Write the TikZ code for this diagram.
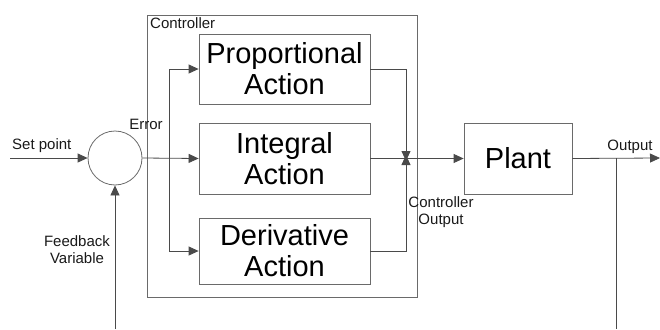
\documentclass[tikz,border=0pt]{standalone}
\usepackage{fontspec}
\setmainfont{Liberation Sans}
\usetikzlibrary{arrows.meta}
\definecolor{linec}{HTML}{4A4A4A}
\definecolor{boxc}{HTML}{6A6A6A}
\begin{document}
\begin{tikzpicture}[x=1pt,y=-1pt,
  wire/.style={draw=linec,line width=0.8pt},
  arr/.style={wire,-{Triangle[length=10pt,width=9pt]}},
  blockbox/.style={draw=boxc,line width=0.8pt,inner sep=0pt,align=center,
    font=\fontsize{29}{31}\selectfont,text=black},
  lbl/.style={inner sep=0pt,align=center,font=\fontsize{15}{17}\selectfont,text=black!90}]
\useasboundingbox (0,0) rectangle (660,329);

% controller frame and its title
\node[draw=boxc,line width=0.8pt,minimum width=270pt,minimum height=282pt,inner sep=0pt] (ctrl) at (282,156) {};
\node[lbl,anchor=north west] (ctrltitle) at (150,17) {Controller};

% summing junction
\node[draw=boxc,line width=0.8pt,circle,minimum size=54pt,inner sep=0pt] (sum) at (115,158) {};

% the three actions
\node[blockbox,minimum width=171pt,minimum height=70pt] (P) at (284.5,69) {Proportional\\Action};
\node[blockbox,minimum width=171pt,minimum height=71pt] (I) at (284.5,158.5) {Integral\\Action};
\node[blockbox,minimum width=171pt,minimum height=66pt] (D) at (284.5,251) {Derivative\\Action};

% plant
\node[blockbox,minimum width=108pt,minimum height=71pt] (plant) at (518,158.5) {Plant};

% branch and merge points
\coordinate (split) at (169,158);
\coordinate (join) at (406,158);
\coordinate (setin) at (10,158);
\coordinate (outend) at (660,158);
\coordinate (tap) at (616,158);
\coordinate (fbbottom) at (115,329);
\coordinate (tapbottom) at (616,329);

% set point and feedback into the junction
\draw[arr] (setin) -- (sum.west);
\draw[arr] (fbbottom) -- (sum.south);

% error fan-out
\draw[arr] (sum.east) -- (I.west);
\draw[arr] (split) |- (P.west);
\draw[arr] (split) |- (D.west);

% merge into controller output
\draw[arr] (P.east) -| ([yshift=-3pt]join);
\draw[arr] (D.east) -| ([yshift=3pt]join);
\draw[arr] (I.east) -- (plant.west);

% plant output and feedback tap
\draw[arr] (plant.east) -- (outend);
\draw[wire] (tap) -- (tapbottom);

% labels
\node[lbl,anchor=south west] (lsp) at (12,153) {Set point};
\node[lbl] (lerr) at (146,124) {Error};
\node[lbl] (lfb) at (77,250) {Feedback\\Variable};
\node[lbl] (lco) at (441,212) {Controller\\Output};
\node[lbl] (lout) at (630,147) {Output};
\end{tikzpicture}
\end{document}
